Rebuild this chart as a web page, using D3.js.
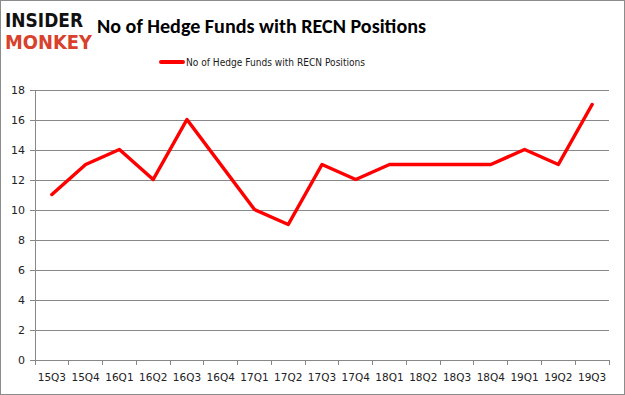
<!DOCTYPE html>
<html>
<head>
<meta charset="utf-8">
<script src="https://cdn.jsdelivr.net/npm/d3@7"></script>
<style>
body { margin: 0; background: #fff; }
svg { display: block; }
</style>
</head>
<body>
<svg></svg>
<script>
const quarters = ['15Q3', '15Q4', '16Q1', '16Q2', '16Q3', '16Q4', '17Q1', '17Q2', '17Q3',
    '17Q4', '18Q1', '18Q2', '18Q3', '18Q4', '19Q1', '19Q2', '19Q3'];
const funds = [11, 13, 14, 12, 16, 13, 10, 9, 13, 12, 13, 13, 13, 13, 14, 13, 17];
const yTicks = [0, 2, 4, 6, 8, 10, 12, 14, 16, 18];
const seriesName = 'No of Hedge Funds with RECN Positions';

function drawChart() {
    const width = 625;
    const height = 395;
    const left = 35, right = 609, top = 89.5, bottom = 359.5;
    const tickFont = 'Tahoma, "DejaVu Sans", sans-serif';

    const svg = d3.select('svg')
        .attr('width', width)
        .attr('height', height);

    svg.append('rect')
        .attr('x', 0.5).attr('y', 0.5)
        .attr('width', width - 1).attr('height', height - 1)
        .attr('fill', '#fff')
        .attr('stroke', '#8c8c8c');

    // logo
    svg.append('text')
        .attr('x', 5).attr('y', 27)
        .attr('font-family', '"DejaVu Sans", sans-serif')
        .attr('font-weight', 'bold')
        .attr('font-size', 20)
        .attr('textLength', 78)
        .attr('lengthAdjust', 'spacingAndGlyphs')
        .attr('fill', '#111')
        .text('INSIDER');
    svg.append('text')
        .attr('x', 5).attr('y', 49)
        .attr('font-family', '"DejaVu Sans", sans-serif')
        .attr('font-weight', 'bold')
        .attr('font-size', 20)
        .attr('textLength', 87)
        .attr('lengthAdjust', 'spacingAndGlyphs')
        .attr('fill', '#d8412b')
        .text('MONKEY');

    svg.append('text')
        .attr('x', 97).attr('y', 33)
        .attr('font-family', 'Carlito, "Open Sans", sans-serif')
        .attr('font-weight', 'bold')
        .attr('font-size', 20)
        .attr('textLength', 329)
        .attr('lengthAdjust', 'spacingAndGlyphs')
        .attr('fill', '#000')
        .text('No of Hedge Funds with RECN Positions');

    // legend
    svg.append('line')
        .attr('x1', 161).attr('x2', 183)
        .attr('y1', 62).attr('y2', 62)
        .attr('stroke', '#ff0000')
        .attr('stroke-width', 4)
        .attr('stroke-linecap', 'round');
    svg.append('text')
        .attr('x', 186).attr('y', 66)
        .attr('font-family', tickFont)
        .attr('font-size', 11)
        .attr('textLength', 179)
        .attr('lengthAdjust', 'spacingAndGlyphs')
        .attr('fill', '#1a1a1a')
        .text(seriesName);

    const xScale = d3.scaleBand()
        .domain(quarters)
        .range([left, right]);
    const yScale = d3.scaleLinear()
        .domain([0, 18])
        .range([bottom, top]);

    // grid
    svg.append('g')
        .attr('transform', `translate(${left}, 0)`)
        .call(d3.axisLeft(yScale).tickValues(yTicks).tickSize(-(right - left)).tickFormat(''))
        .call(g => g.select('.domain').remove())
        .selectAll('line')
        .attr('stroke', '#888')
        .attr('shape-rendering', 'crispEdges');

    // y axis
    const yAxis = svg.append('g')
        .attr('transform', `translate(${left}, 0)`)
        .call(d3.axisLeft(yScale).tickValues(yTicks).tickSize(5).tickPadding(5).tickSizeOuter(0));
    yAxis.select('.domain').attr('stroke', '#888').attr('shape-rendering', 'crispEdges');
    yAxis.selectAll('line').attr('stroke', '#888').attr('shape-rendering', 'crispEdges');
    yAxis.selectAll('text')
        .attr('font-family', tickFont)
        .attr('font-size', 11)
        .attr('fill', '#222');

    // x axis
    const xAxis = svg.append('g')
        .attr('transform', `translate(0, ${bottom})`)
        .call(d3.axisBottom(xScale).tickSize(0).tickPadding(14));
    xAxis.select('.domain').attr('stroke', '#888').attr('shape-rendering', 'crispEdges');
    xAxis.selectAll('text')
        .attr('font-family', tickFont)
        .attr('font-size', 10.5)
        .attr('fill', '#222');
    xAxis.selectAll('.sep')
        .data(quarters.concat(['end']))
        .enter()
        .append('line')
        .attr('x1', (d, i) => i < quarters.length ? xScale(d) : right)
        .attr('x2', (d, i) => i < quarters.length ? xScale(d) : right)
        .attr('y1', 0).attr('y2', 5)
        .attr('stroke', '#888')
        .attr('shape-rendering', 'crispEdges');

    const line = d3.line()
        .x((d, i) => xScale(quarters[i]) + xScale.bandwidth() / 2)
        .y(d => yScale(d));
    svg.append('path')
        .datum(funds)
        .attr('d', line)
        .attr('fill', 'none')
        .attr('stroke', '#ff0000')
        .attr('stroke-width', 3.5)
        .attr('stroke-linejoin', 'round')
        .attr('stroke-linecap', 'round');
}

drawChart();
</script>
</body>
</html>
